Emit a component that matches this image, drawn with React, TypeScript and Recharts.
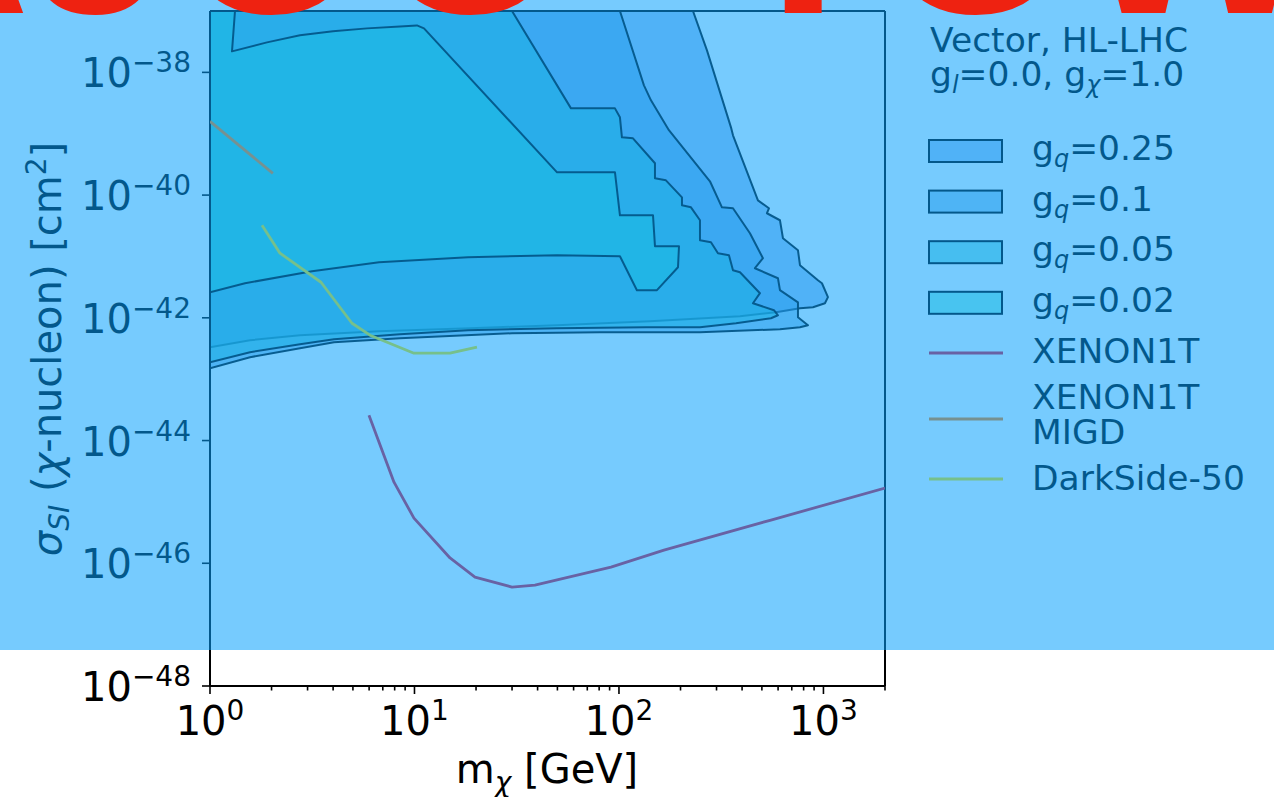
import React from 'react';
import { ScatterChart, Scatter, XAxis, YAxis } from 'recharts';

type Pair = [number, number];
type Pt = { m: number; s: number };

// ---- axes ----
const massDomain: [number, number] = [1, 2000];
const sigmaDomain: [number, number] = [1e-48, 1e-37];
const xMajorTicks = [1, 10, 100, 1000];
const xMinorTicks = [2, 3, 4, 5, 6, 7, 8, 9, 20, 30, 40, 50, 60, 70, 80, 90, 200, 300, 400, 500, 600, 700, 800, 900, 2000];
const xTickExponents = ['0', '1', '2', '3'];
const yTicks = [1e-48, 1e-46, 1e-44, 1e-42, 1e-40, 1e-38];
const yTickExponents = ['\u221248', '\u221246', '\u221244', '\u221242', '\u221240', '\u221238'];

// ---- HL-LHC exclusion contours (m_chi [GeV], sigma_SI [cm^2]) ----
const regionGq025: Pair[] = [
  [1, 1e-37], [230.1, 1e-37], [269.4, 2.28e-38], [353, 1.27e-39], [361.1, 9.42e-40], [478.3, 8.22e-41],
  [541.4, 6.1e-41], [529.3, 5.06e-41], [612.8, 3.89e-41], [633.9, 1.98e-41], [750.6, 1.26e-41],
  [767.7, 7.2e-42], [939.9, 4.09e-42], [983.3, 3.66e-42], [1052, 2.17e-42], [1017, 1.73e-42],
  [888.7, 1.49e-42], [767.7, 1.43e-42], [585.8, 1.23e-42], [390.7, 1.06e-42], [141.8, 8.81e-43],
  [49.76, 7.57e-43], [18.68, 6.78e-43], [6.706, 6.05e-43], [2.755, 5.21e-43], [1.569, 4.31e-43], [1, 3.32e-43],
];

const regionGq01: Pair[] = [
  [1, 1e-37], [101.1, 1e-37], [132.5, 6.14e-39], [143.4, 3.5e-39], [175.5, 1.14e-39], [278.6, 1.68e-40],
  [318.9, 6.32e-41], [361.1, 6.1e-41], [437.1, 2.39e-41], [506.0, 9.35e-42], [462.4, 6.43e-42],
  [599.1, 4.42e-42], [612.8, 2.82e-42], [750.6, 1.79e-42], [750.6, 1.02e-42], [840.2, 7.57e-43],
  [767.7, 7.03e-43], [612.8, 6.52e-43], [249, 5.82e-43], [80.75, 5.82e-43], [29.99, 5.61e-43],
  [8.495, 4.66e-43], [4.041, 4.01e-43], [2.755, 3.2e-43], [1.569, 2.28e-43], [1, 1.51e-43],
];

const regionGq005: Pair[] = [
  [1, 1e-37], [29.99, 1e-37], [58.27, 2.59e-39], [95.59, 2.59e-39], [101.1, 1.85e-39], [103.4, 8.73e-40],
  [117.1, 8.41e-40], [150, 3.3e-40], [150, 1.88e-40], [169.7, 1.74e-40], [203.3, 9.2e-41], [203.3, 6.82e-41],
  [225, 6.32e-41], [249, 3.89e-41], [249, 1.84e-41], [281.8, 1.7e-41], [304.9, 1.13e-41], [345.1, 1.05e-41],
  [361.1, 5.96e-42], [390.7, 5.53e-42], [489.2, 2.52e-42], [452.2, 1.73e-42], [572.7, 1.33e-42],
  [599.1, 1.1e-42], [553.7, 9.84e-43], [373.5, 8.16e-43], [249, 7.03e-43], [135.6, 7.03e-43],
  [49.76, 6.78e-43], [18.26, 6.28e-43], [8.495, 5.41e-43], [4.041, 4.48e-43], [2.755, 3.72e-43],
  [1.569, 2.75e-43], [1, 1.89e-43],
];

const regionGq002: Pair[] = [
  [1, 1e-37], [1.325, 1e-37], [1.281, 2.2e-38], [1.9, 3.08e-38], [2.755, 4.01e-38], [3.995, 4.66e-38],
  [5.858, 5.21e-38], [8.495, 5.61e-38], [10.28, 5.82e-38], [11.13, 5.21e-38], [49.8, 2.35e-40],
  [95.6, 2.35e-40], [101.1, 4.69e-41], [146.7, 4.69e-41], [150, 1.47e-41], [196.6, 1.47e-41],
  [194.4, 6.67e-42], [153.4, 2.82e-42], [122.4, 2.82e-42], [101.1, 1.01e-41], [49.8, 1.05e-41],
  [18.26, 9.7e-42], [6.71, 8.05e-42], [3.154, 5.74e-42], [1.483, 3.66e-42], [1, 2.61e-42],
];

// ---- direct-detection limits ----
const xenon1t: Pair[] = [
  [5.99, 2.59e-44], [7.94, 2.1e-45], [9.94, 5.44e-46], [14.92, 1.22e-46], [19.76, 5.96e-47],
  [29.99, 4.09e-47], [38.83, 4.42e-47], [91.4, 8.67e-47], [166, 1.64e-46], [553.6, 5.06e-46], [2000, 1.68e-45],
];
const xenon1tMigd: Pair[] = [[1.0, 1.59e-39], [2.03, 2.26e-40]];
const darkSide50: Pair[] = [
  [1.796, 3.22e-41], [2.199, 1.13e-41], [3.49, 3.8e-42], [4.948, 8.16e-43], [6.059, 5.21e-43],
  [9.94, 2.65e-43], [14.92, 2.65e-43], [20.21, 3.32e-43],
];

// ---- legend ----
const couplingLabels = ['0.25', '0.1', '0.05', '0.02'];
const couplingColors = ['#5791e1', '#4f99d9', '#2bc7c1', '#33e1c1'];
const limitLabels = [['XENON1T'], ['XENON1T', 'MIGD'], ['DarkSide-50']];
const limitColors = ['#e01838', '#ff7f0e', '#ffe600'];

const FONT = "'DejaVu Sans', 'Bitstream Vera Sans', sans-serif";
const LEGEND_FS = 34.5;
const LEGEND_SUB_FS = 24;
const EDGE_W = 2;

const toPts = (rows: Pair[]): Pt[] => rows.map(([m, s]) => ({ m, s }));

const pathOf = (pts: { x: number; y: number }[], close: boolean) =>
  'M' + pts.map((q) => `${q.x},${q.y}`).join('L') + (close ? 'Z' : '');

const regionShape = (fill: string) => (p: any) => (
  <path
    d={pathOf(p.points, true)}
    fill={fill}
    fillOpacity={0.5}
    stroke="#000"
    strokeOpacity={0.95}
    strokeWidth={EDGE_W}
    strokeLinejoin="round"
  />
);

const limitShape = (stroke: string) => (p: any) => (
  <path d={pathOf(p.points, false)} fill="none" stroke={stroke} strokeWidth={2.8} strokeLinejoin="round" />
);

const noDot = () => <g />;

const XTick = (props: any) => {
  const { x, y, payload } = props;
  const idx = xMajorTicks.indexOf(payload.value);
  const major = idx >= 0;
  return (
    <g>
      <line x1={x} x2={x} y1={y} y2={y + (major ? 8 : 4.5)} stroke="#000" strokeWidth={1.6} />
      {major && (
        <text x={x} y={y + 49} textAnchor="middle" fontFamily={FONT} fontSize={40} fill="#000">
          10
          <tspan dy={-15} fontSize={28}>
            {xTickExponents[idx]}
          </tspan>
        </text>
      )}
    </g>
  );
};

const YTick = (props: any) => {
  const { x, y, payload } = props;
  const idx = yTicks.indexOf(payload.value);
  return (
    <g>
      <line x1={x} x2={x - 8} y1={y} y2={y} stroke="#000" strokeWidth={1.6} />
      <text x={x - 19} y={y + 15} textAnchor="end" fontFamily={FONT} fontSize={40} fill="#000">
        10
        <tspan dy={-15} fontSize={28}>
          {idx >= 0 ? yTickExponents[idx] : ''}
        </tspan>
      </text>
    </g>
  );
};

const Legend = () => {
  const rowTop = 140;
  const rowStep = 50.6;
  return (
    <svg width={1274} height={797} style={{ position: 'absolute', left: 0, top: 0 }}>
      <g fontFamily={FONT} fill="#000" style={{ whiteSpace: 'pre' }}>
        {/* axis titles */}
        <text x={547} y={783} textAnchor="middle" fontSize={40}>
          m<tspan dy={9} fontSize={28} fontStyle="italic">χ</tspan>
          <tspan dy={-9}> [GeV]</tspan>
        </text>
        <text transform="translate(61,349) rotate(-90)" textAnchor="middle" fontSize={40}>
          <tspan fontStyle="italic">σ</tspan>
          <tspan dy={8} fontSize={28} fontStyle="italic">SI</tspan>
          <tspan dy={-8}> (</tspan>
          <tspan fontStyle="italic">χ</tspan>
          <tspan>-nucleon) [cm</tspan>
          <tspan dy={-15} fontSize={28}>2</tspan>
          <tspan dy={15}>]</tspan>
        </text>

        {/* legend title */}
        <text x={930} y={52} fontSize={LEGEND_FS}>Vector, HL-LHC</text>
        <text x={930} y={86} fontSize={LEGEND_FS}>
          g<tspan dy={7} fontSize={LEGEND_SUB_FS} fontStyle="italic">l</tspan>
          <tspan dy={-7}>=0.0, g</tspan>
          <tspan dy={7} fontSize={LEGEND_SUB_FS} fontStyle="italic">χ</tspan>
          <tspan dy={-7}>=1.0</tspan>
        </text>

        {couplingLabels.map((lab, i) => {
          const top = rowTop + i * rowStep;
          return (
            <g key={lab}>
              <rect x={929} y={top} width={73} height={22} fill={couplingColors[i]} fillOpacity={0.5} stroke="#000" strokeWidth={EDGE_W} />
              <text x={1032} y={top + 20} fontSize={LEGEND_FS}>
                g<tspan dy={7} fontSize={LEGEND_SUB_FS} fontStyle="italic">q</tspan>
                <tspan dy={-7}>={lab}</tspan>
              </text>
            </g>
          );
        })}

        {limitLabels.map((lines, i) => {
          const lineY = [353, 419, 479][i];
          const firstBase = [363, 409, 490][i];
          return (
            <g key={lines.join(' ')}>
              <line x1={929} x2={1003} y1={lineY} y2={lineY} stroke={limitColors[i]} strokeWidth={2.8} />
              {lines.map((t, j) => (
                <text key={t} x={1032} y={firstBase + j * 35} fontSize={LEGEND_FS}>
                  {t}
                </text>
              ))}
            </g>
          );
        })}
      </g>
    </svg>
  );
};

const frameLine = { stroke: '#000', strokeWidth: 2 };

export default function App() {
  return (
    <div style={{ position: 'absolute', left: 0, top: 0, width: 1274, height: 797, background: '#fff', overflow: 'hidden' }}>
      <ScatterChart width={1274} height={797} margin={{ top: 10, right: 388, bottom: 110, left: 209 }}>
        <Scatter data={toPts(regionGq025)} line={regionShape(couplingColors[0])} lineType="joint" shape={noDot} isAnimationActive={false} />
        <Scatter data={toPts(regionGq01)} line={regionShape(couplingColors[1])} lineType="joint" shape={noDot} isAnimationActive={false} />
        <Scatter data={toPts(regionGq005)} line={regionShape(couplingColors[2])} lineType="joint" shape={noDot} isAnimationActive={false} />
        <Scatter data={toPts(regionGq002)} line={regionShape(couplingColors[3])} lineType="joint" shape={noDot} isAnimationActive={false} />
        <Scatter data={toPts(xenon1t)} line={limitShape(limitColors[0])} lineType="joint" shape={noDot} isAnimationActive={false} />
        <Scatter data={toPts(xenon1tMigd)} line={limitShape(limitColors[1])} lineType="joint" shape={noDot} isAnimationActive={false} />
        <Scatter data={toPts(darkSide50)} line={limitShape(limitColors[2])} lineType="joint" shape={noDot} isAnimationActive={false} />

        <XAxis
          type="number"
          dataKey="m"
          scale="log"
          domain={massDomain}
          allowDataOverflow
          ticks={[...xMajorTicks, ...xMinorTicks]}
          interval={0}
          tick={<XTick />}
          tickLine={false}
          tickSize={0}
          tickMargin={0}
          height={1}
          axisLine={frameLine}
        />
        <YAxis
          type="number"
          dataKey="s"
          scale="log"
          domain={sigmaDomain}
          allowDataOverflow
          ticks={yTicks}
          interval={0}
          tick={<YTick />}
          tickLine={false}
          tickSize={0}
          tickMargin={0}
          width={1}
          axisLine={frameLine}
        />
        <XAxis
          xAxisId="top"
          orientation="top"
          type="number"
          scale="log"
          domain={massDomain}
          allowDataOverflow
          ticks={xMajorTicks}
          tick={false}
          tickLine={false}
          height={1}
          axisLine={frameLine}
        />
        <YAxis
          yAxisId="right"
          orientation="right"
          type="number"
          scale="log"
          domain={sigmaDomain}
          allowDataOverflow
          ticks={yTicks}
          tick={false}
          tickLine={false}
          width={1}
          axisLine={frameLine}
        />
      </ScatterChart>
      <Legend />
      <div
        style={{
          position: 'absolute',
          left: 0,
          top: 0,
          width: 1274,
          height: 650,
          background: 'rgba(6,160,253,0.55)',
          pointerEvents: 'none',
        }}
      />
      <svg width={1274} height={797} style={{ position: 'absolute', left: 0, top: 0, pointerEvents: 'none' }}>
        <g fontFamily="'Liberation Sans', Arial, sans-serif" fontWeight="bold" fontSize={256} fill="#ee2211">
          <text x={-155} y={13}>AJOO</text>
          <text x={725} y={13}>TOWN</text>
        </g>
      </svg>
    </div>
  );
}
